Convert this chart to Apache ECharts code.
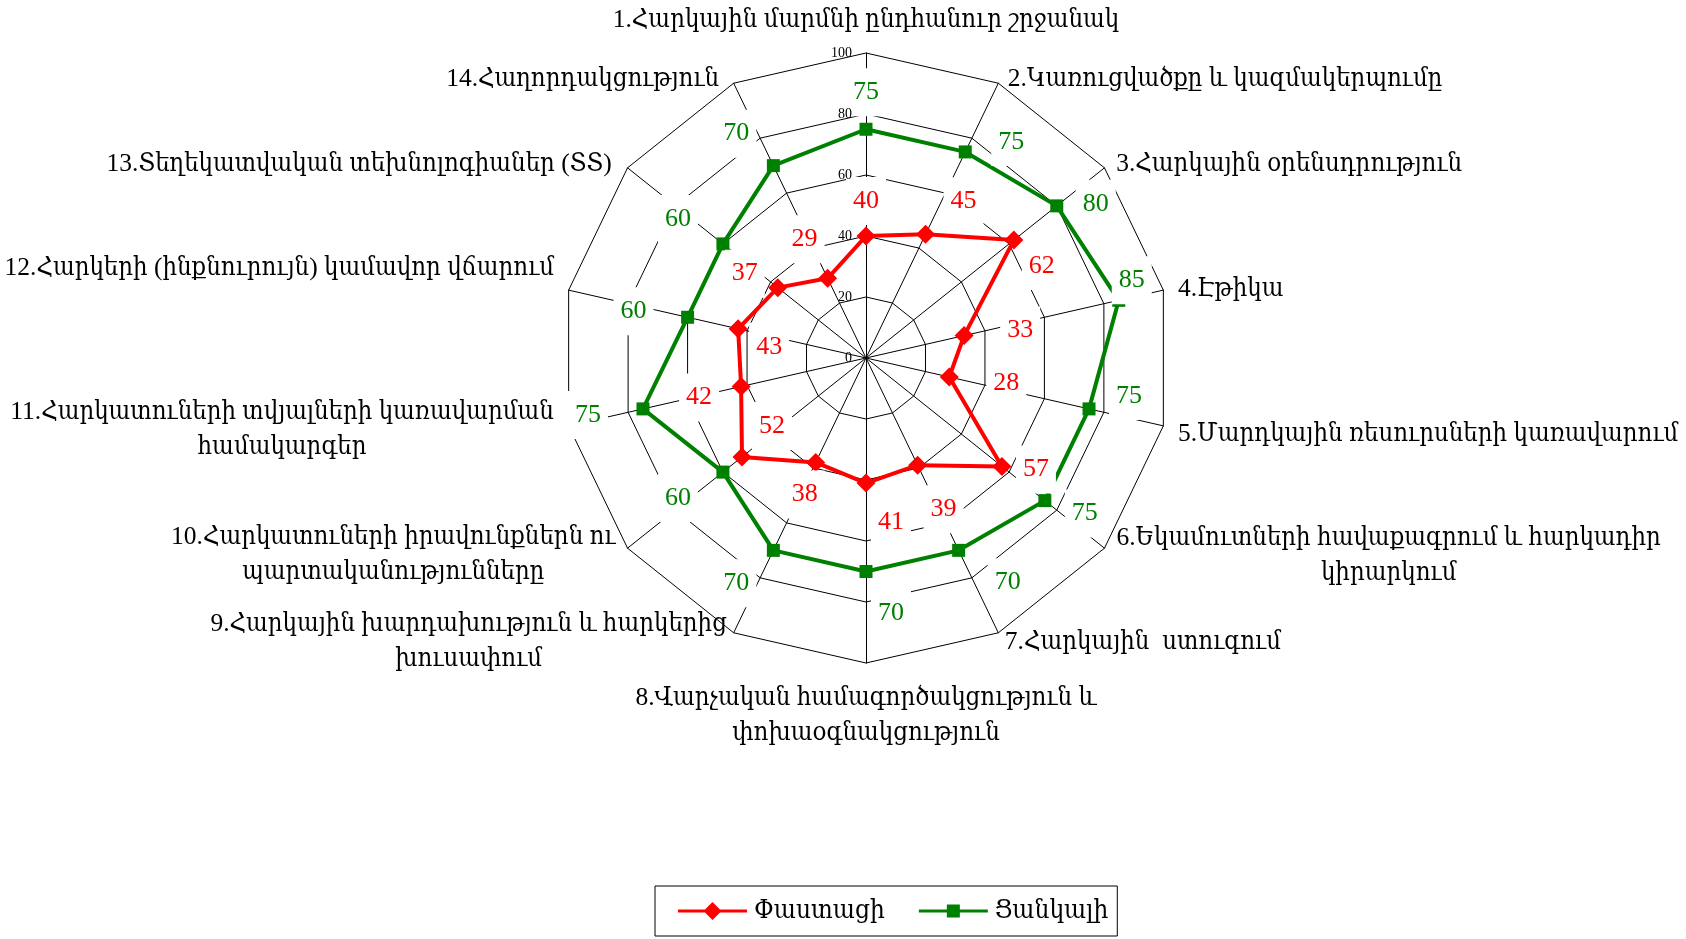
<!DOCTYPE html>
<html>
<head>
<meta charset="utf-8">
<script src="https://cdn.jsdelivr.net/npm/echarts@6/dist/echarts.min.js"></script>
<style>
html,body{margin:0;padding:0;background:#fff;}
#chart{width:1686px;height:939px;}
</style>
</head>
<body>
<div id="chart"></div>
<script>
// ---- data ----
const categories = [
  "1.Հարկային մարմնի ընդհանուր շրջանակ",
  "2.Կառուցվածքը և կազմակերպումը",
  "3.Հարկային օրենսդրություն",
  "4.Էթիկա",
  "5.Մարդկային ռեսուրսների կառավարում",
  "6.Եկամուտների հավաքագրում և հարկադիր\nկիրարկում",
  "7.Հարկային  ստուգում",
  "8.Վարչական համագործակցություն և\nփոխաօգնակցություն",
  "9.Հարկային խարդախություն և հարկերից\nխուսափում",
  "10.Հարկատուների իրավունքներն ու\nպարտականությունները",
  "11.Հարկատուների տվյալների կառավարման\nհամակարգեր",
  "12.Հարկերի (ինքնուրույն) կամավոր վճարում",
  "13.Տեղեկատվական տեխնոլոգիաներ (ՏՏ)",
  "14.Հաղորդակցություն"
];
const seriesNames = ["Փաստացի", "Ցանկալի"];
const actualValues  = [40, 45, 62, 33, 28, 57, 39, 41, 38, 52, 42, 43, 37, 29];
const desiredValues = [75, 75, 80, 85, 75, 75, 70, 70, 70, 60, 75, 60, 60, 70];
const axisMax = 100;
const axisSplits = 5;

// ---- label placement (style) ----
const actualLabelOffsets = [[0,-35],[38,-33],[28,26],[56,-5],[57,6],[34,3],[26,44],[25,39],[-11,32],[30,-31],[-42,11],[31,18],[-33,-14],[-23,-39]];
const desiredLabelOffsets = [[0,-37],[46,-10],[39,-2],[13,-20],[40,-13],[40,13],[49,32],[25,42],[-37,33],[-45,26],[-55,6],[-54,-6],[-45,-25],[-37,-32]];
const nameShifts = [[0,0],[3,10],[0,6],[0,3],[0,5],[0,-2],[0,-4],[0,3],[0,-5],[0,-3],[0,1],[0,-18],[4,6],[8,10]];

const CENTER = [866, 358];
const RADIUS = 305;
const NAME_FONT = '"Liberation Serif","DejaVu Serif Condensed","DejaVu Serif",serif';
const NAME_SIZE = 25.5;
const NAME_LH = 35;
const NUM_FONT = '"Liberation Serif",serif';

// clockwise order for ECharts (which runs counter-clockwise)
const n = categories.length;
const order = [0];
for (let i = n - 1; i >= 1; i--) order.push(i);

// measure multi-line names to center their lines
const mctx = document.createElement('canvas').getContext('2d');
mctx.font = NAME_SIZE + 'px ' + NAME_FONT;
const rich = {};
const nameMap = {};
categories.forEach((c, i) => {
  const lines = c.split('\n');
  if (lines.length > 1) {
    const w = Math.ceil(Math.max(...lines.map(l => mctx.measureText(l).width)));
    rich['c' + i] = { width: w, align: 'center', fontSize: NAME_SIZE, fontFamily: NAME_FONT, color: '#000', lineHeight: NAME_LH };
    nameMap[c] = lines.map(l => '{c' + i + '|' + l + '}').join('\n');
  }
});

function namePadding(i) {
  const dx = nameShifts[i][0], dy = nameShifts[i][1];
  let t = 0, r = 0, b = 0, l = 0;
  if (i === 0) { if (dy < 0) b = -dy; }
  else if (i === n / 2) { if (dy > 0) t = dy; }
  else {
    if (dy > 0) t = 2 * dy; else b = -2 * dy;
    if (i < n / 2) l = Math.max(dx, 0); else r = Math.max(dx, 0);
  }
  return [t, r, b, l];
}

const indicators = order.map(i => ({ name: categories[i], max: axisMax, min: 0, nameTextStyle: { padding: namePadding(i) } }));
const tickIndicators = order.map((i, k) => {
  const o = { name: categories[i], max: axisMax, min: 0 };
  if (k > 0) o.axisLabel = { show: false };
  return o;
});
const actualOrdered = order.map(i => actualValues[i]);
const desiredOrdered = order.map(i => desiredValues[i]);

const chart = echarts.init(document.getElementById('chart'));
const step = 2 * Math.PI / n;
function dimFromRect(rect) {
  const cx = rect.x + rect.width / 2, cy = rect.y + rect.height / 2;
  let a = Math.atan2(cx - CENTER[0], -(cy - CENTER[1]));
  if (a < 0) a += 2 * Math.PI;
  return Math.round(a / step) % n;
}

const styles = [
  { color: '#ff0000', symbol: 'diamond', size: 19, offsets: actualLabelOffsets, values: actualOrdered },
  { color: '#008000', symbol: 'rect', size: 13, offsets: desiredLabelOffsets, values: desiredOrdered }
];

const lineSeries = styles.map((s, k) => ({
  type: 'radar',
  radarIndex: 0,
  z: 2,
  silent: true,
  data: [{
    name: seriesNames[k],
    value: s.values,
    symbol: s.symbol,
    symbolSize: s.size,
    itemStyle: { color: s.color },
    lineStyle: { color: s.color, width: 4 },
    label: { show: false }
  }]
}));

const labelSeries = styles.map((s, k) => ({
  type: 'radar',
  radarIndex: 0,
  z: 5,
  silent: true,
  data: [{
    name: seriesNames[k],
    value: s.values,
    symbol: 'circle',
    symbolSize: 1,
    itemStyle: { color: 'rgba(0,0,0,0)' },
    lineStyle: { width: 0, opacity: 0 },
    label: {
      show: true,
      position: 'inside',
      color: s.color,
      opacity: 1,
      fontSize: 26,
      fontFamily: NUM_FONT,
      backgroundColor: '#fff',
      padding: [11, 7]
    }
  }],
  labelLayout: function (p) {
    const d = dimFromRect(p.rect);
    const off = s.offsets[d];
    return {
      x: p.rect.x + p.rect.width / 2 + off[0],
      y: p.rect.y + p.rect.height / 2 + off[1],
      align: 'center',
      verticalAlign: 'middle'
    };
  }
}));

const option = {
  animation: false,
  backgroundColor: '#fff',
  legend: {
    data: [
      { name: seriesNames[0], icon: 'path://M0,7.5L69,7.5L69,10.5L0,10.5Z M34.5,0L43.5,9L34.5,18L25.5,9Z', itemStyle: { color: '#ff0000' } },
      { name: seriesNames[1], icon: 'path://M0,7.5L69,7.5L69,10.5L0,10.5Z M28,2.5L41,2.5L41,15.5L28,15.5Z', itemStyle: { color: '#008000' } }
    ],
    left: 655,
    bottom: 3,
    orient: 'horizontal',
    itemWidth: 69,
    itemHeight: 18,
    itemGap: 34,
    padding: [12, 9, 12, 23],
    borderColor: '#000',
    borderWidth: 1,
    textStyle: { fontSize: 26, fontFamily: NAME_FONT, color: '#000', padding: [0, 0, 0, 2] }
  },
  radar: [{
    center: CENTER,
    radius: RADIUS,
    startAngle: 90,
    shape: 'polygon',
    splitNumber: axisSplits,
    nameGap: 15,
    indicator: indicators,
    axisName: {
      color: '#000',
      fontSize: NAME_SIZE,
      fontFamily: NAME_FONT,
      lineHeight: NAME_LH,
      formatter: (name) => nameMap[name] || name,
      rich: rich
    },
    axisLine: { lineStyle: { color: '#000', width: 1 } },
    splitLine: { lineStyle: { color: '#000', width: 1 } },
    splitArea: { show: false },
    axisTick: { show: false },
    axisLabel: { show: false }
  }, {
    // overlay carrying only the value-axis tick labels, drawn above the data labels
    z: 10,
    center: CENTER,
    radius: RADIUS,
    startAngle: 90,
    shape: 'polygon',
    splitNumber: axisSplits,
    indicator: tickIndicators,
    axisName: { show: false },
    axisLine: { show: false },
    splitLine: { show: false },
    splitArea: { show: false },
    axisTick: { show: false },
    axisLabel: { show: true, color: '#000', fontSize: 14, fontFamily: NUM_FONT, margin: 14 }
  }],
  series: lineSeries.concat(labelSeries)
};
chart.setOption(option);
</script>
</body>
</html>
